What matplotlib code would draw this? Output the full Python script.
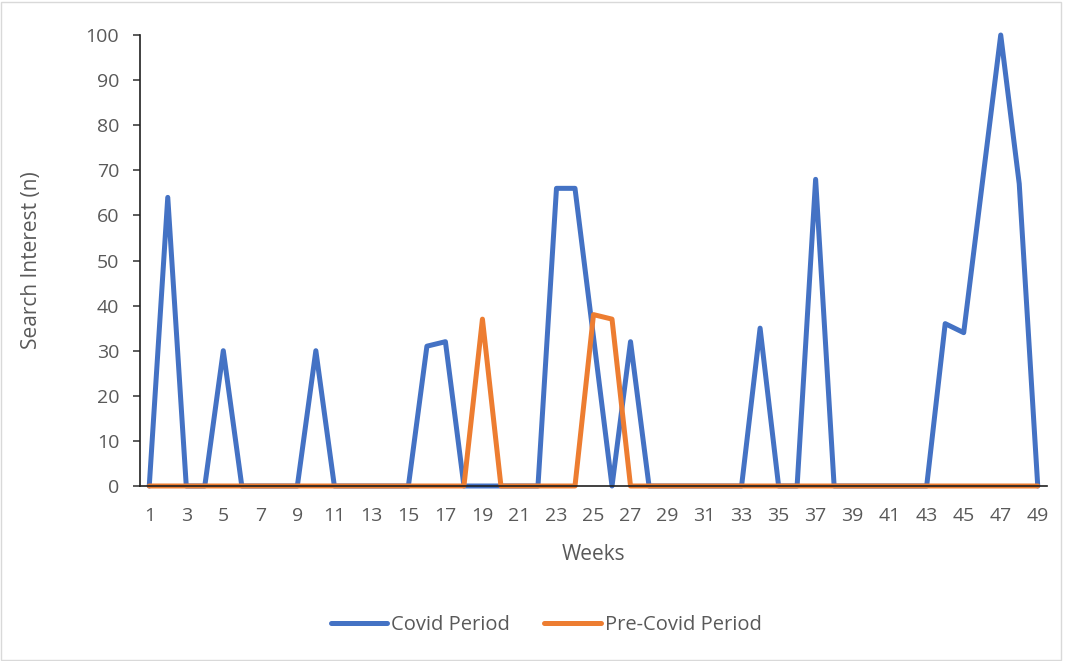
import matplotlib
matplotlib.use("Agg")
import matplotlib.pyplot as plt
from matplotlib.patches import Rectangle

weeks = list(range(1, 50))
covid = [0, 64, 0, 0, 30, 0, 0, 0, 0, 30,
         0, 0, 0, 0, 0, 31, 32, 0, 0, 0,
         0, 0, 66, 66, 33, 0, 32, 0, 0, 0,
         0, 0, 0, 35, 0, 0, 68, 0, 0, 0,
         0, 0, 0, 36, 34, 67, 100, 67, 0]
pre_covid = [0, 0, 0, 0, 0, 0, 0, 0, 0, 0,
             0, 0, 0, 0, 0, 0, 0, 0, 37, 0,
             0, 0, 0, 0, 38, 37, 0, 0, 0, 0,
             0, 0, 0, 0, 0, 0, 0, 0, 0, 0,
             0, 0, 0, 0, 0, 0, 0, 0, 0]
x_ticklabels = [str(w) for w in weeks[::2]]
y_ticks = list(range(0, 101, 10))

plt.rcParams['font.family'] = ['Open Sans', 'DejaVu Sans']
text_color = '#595959'

fig = plt.figure(figsize=(10.68, 6.61), dpi=100)
ax = fig.add_axes([140/1068, 1-486/661, (1047-140)/1068, (486-35)/661])

ax.plot(weeks, covid, color='#4472C4', lw=3.6, label='Covid Period', solid_joinstyle='round', solid_capstyle='round')
ax.plot(weeks, pre_covid, color='#ED7D31', lw=3.6, label='Pre-Covid Period', solid_joinstyle='round', solid_capstyle='round')

ax.set_xlim(0.5, 49.5)
ax.set_ylim(0, 100)
ax.set_yticks(y_ticks)
ax.set_xticks(weeks[::2])
ax.set_xticklabels(x_ticklabels)
ax.tick_params(axis='y', length=5, width=1.2, color='#404040', labelsize=14, labelcolor=text_color, pad=10)
ax.tick_params(axis='x', length=0, labelsize=14, labelcolor=text_color, pad=15)
for s in ['top', 'right']:
    ax.spines[s].set_visible(False)
ax.spines['left'].set_color('#202020')
ax.spines['bottom'].set_color('#202020')
ax.spines['left'].set_linewidth(1.2)
ax.spines['bottom'].set_linewidth(1.2)
for line in ax.get_lines():
    line.set_clip_on(False)

ax.set_xlabel('Weeks', fontsize=15, color=text_color)
ax.set_ylabel('Search Interest (n)', fontsize=15, color=text_color)
ax.xaxis.set_label_coords(594/1068, 1-555/661, transform=fig.transFigure)
ax.xaxis.label.set_verticalalignment('center')
ax.yaxis.set_label_coords(32/1068, 1-260/661, transform=fig.transFigure)
ax.yaxis.label.set_verticalalignment('center')

leg = fig.legend(loc='center', bbox_to_anchor=(546/1068, 1-625/661), ncol=2, frameon=False,
                 fontsize=14.5, handlelength=2.8, handletextpad=0.2, columnspacing=1.7)
for t in leg.get_texts():
    t.set_color(text_color)
for h in leg.get_lines():
    h.set_linewidth(3.6)
    h.set_solid_capstyle('round')

fig.patches.append(Rectangle((0.001, 0.002), 0.992, 0.995, transform=fig.transFigure,
                             fill=False, edgecolor='#D9D9D9', lw=1))

fig.savefig('out.png', dpi=100)
